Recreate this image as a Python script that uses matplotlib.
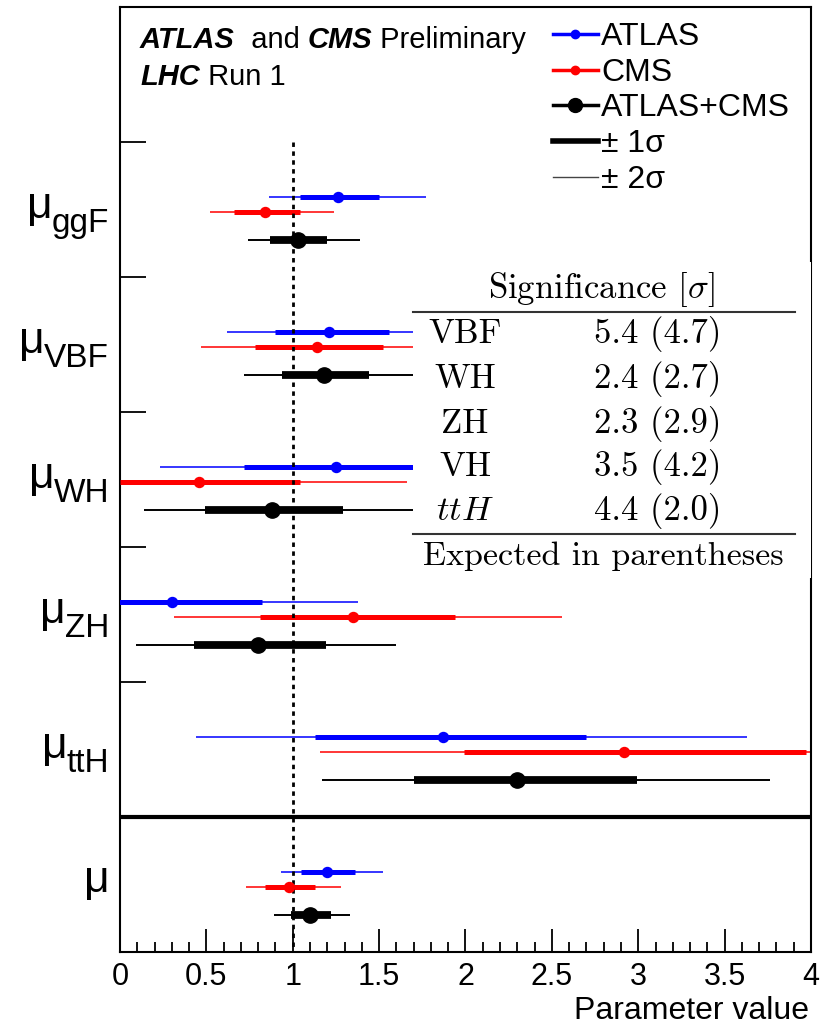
import numpy as np
import matplotlib.pyplot as plt
from matplotlib.lines import Line2D
from matplotlib.patches import Rectangle
from matplotlib.ticker import MultipleLocator

plt.rcParams['font.family'] = ['Liberation Sans', 'DejaVu Sans']
plt.rcParams['mathtext.fontset'] = 'cm'

# production modes, top to bottom ('' = global signal strength)
processes = ['ggF', 'VBF', 'WH', 'ZH', 'ttH', '']

# ATLAS
atlas_mu = [1.26, 1.21, 1.25, 0.30, 1.87, 1.20]
atlas_lo1 = [1.04, 0.90, 0.72, -0.15, 1.13, 1.05]
atlas_hi1 = [1.50, 1.56, 1.82, 0.82, 2.70, 1.36]
atlas_lo2 = [0.86, 0.62, 0.23, -0.50, 0.44, 0.93]
atlas_hi2 = [1.77, 1.95, 2.45, 1.38, 3.63, 1.52]

# CMS
cms_mu = [0.84, 1.14, 0.46, 1.35, 2.92, 0.98]
cms_lo1 = [0.66, 0.78, 0.00, 0.81, 1.99, 0.84]
cms_hi1 = [1.04, 1.52, 1.04, 1.94, 3.97, 1.13]
cms_lo2 = [0.52, 0.47, -0.30, 0.31, 1.16, 0.73]
cms_hi2 = [1.24, 1.95, 1.66, 2.56, 5.00, 1.28]

# ATLAS+CMS
comb_mu = [1.03, 1.18, 0.88, 0.80, 2.30, 1.10]
comb_lo1 = [0.87, 0.94, 0.49, 0.43, 1.70, 0.99]
comb_hi1 = [1.20, 1.44, 1.29, 1.19, 2.99, 1.22]
comb_lo2 = [0.74, 0.72, 0.14, 0.09, 1.17, 0.89]
comb_hi2 = [1.39, 1.72, 1.72, 1.60, 3.76, 1.33]

# significance table
sig_names = ['VBF', 'WH', 'ZH', 'VH', '$ttH$']
sig_obs = [5.4, 2.4, 2.3, 3.5, 4.4]
sig_exp = [4.7, 2.7, 2.9, 4.2, 2.0]

xtick_labels = ['0', '0.5', '1', '1.5', '2', '2.5', '3', '3.5', '4']

fig = plt.figure(figsize=(8.25, 10.26), dpi=100)
ax = fig.add_axes([120 / 825, 1 - 952 / 1026, (811 - 120) / 825, (952 - 7) / 1026])
ax.set_xlim(0, 4)
ax.set_ylim(7, 0)

# (values, colour, 1sigma width, 2sigma width, marker size, offset in slot)
series = [
    (atlas_mu, atlas_lo1, atlas_hi1, atlas_lo2, atlas_hi2, 'blue', 3.6, 1.1, 7.2, 0.405),
    (cms_mu, cms_lo1, cms_hi1, cms_lo2, cms_hi2, 'red', 3.6, 1.1, 7.2, 0.515),
    (comb_mu, comb_lo1, comb_hi1, comb_lo2, comb_hi2, 'black', 5.6, 1.4, 11, 0.725),
]
for mu, lo1, hi1, lo2, hi2, col, lw1, lw2, ms, off in series:
    for i in range(len(processes)):
        y = i + 1 + off
        ax.plot([lo2[i], hi2[i]], [y, y], color=col, lw=lw2, solid_capstyle='butt', zorder=2)
        ax.plot([lo1[i], hi1[i]], [y, y], color=col, lw=lw1, solid_capstyle='butt', zorder=3)
        ax.plot([mu[i]], [y], 'o', color=col, ms=ms, zorder=4)

# SM expectation
ax.plot([1, 1], [1, 7], color='black', lw=2, ls=(0, (1.6, 1.6)), zorder=3.5)
ax.axhline(6, color='black', lw=3, zorder=3)

# y labels
for i, p in enumerate(processes):
    if p:
        sub = ax.annotate(p, xy=(109, i + 1 + 0.667), xycoords=('figure pixels', 'data'),
                          ha='right', va='baseline', fontsize=24, annotation_clip=False)
        ax.annotate('μ', xy=(0, 0), xycoords=sub, xytext=(1, 21), textcoords='offset pixels',
                    ha='right', va='baseline', fontsize=32, annotation_clip=False)
    else:
        ax.annotate('μ', xy=(110, i + 1 + 0.556), xycoords=('figure pixels', 'data'),
                    ha='right', va='baseline', fontsize=32, annotation_clip=False)

# axes styling
for s in ax.spines.values():
    s.set_linewidth(1.5)
ax.set_xticks(np.arange(0, 4.01, 0.5))
ax.set_xticklabels(xtick_labels)
ax.xaxis.set_minor_locator(MultipleLocator(0.1))
ax.tick_params(axis='x', which='major', direction='in', length=16.5, width=1.3,
               labelsize=22, pad=7, top=False)
ax.tick_params(axis='x', which='minor', direction='in', length=7.2, width=1.3, top=False)
ax.set_yticks([1, 2, 3, 4, 5])
ax.set_yticklabels([])
ax.tick_params(axis='y', direction='in', length=19, width=1.3, right=False)
ax.set_xlabel('Parameter value', fontsize=23, loc='right')
ax.xaxis.set_label_coords(0.997, -0.047)

# header text
t = fig.text(140 / 825, 1 - 54 / 1026, 'ATLAS', fontsize=21, weight='bold', style='italic', va='bottom')
for txt, kw in [('  and ', {}), ('CMS', dict(weight='bold', style='italic')), (' Preliminary', {})]:
    t = ax.annotate(txt, xy=(1, 0), xycoords=t, va='bottom', ha='left', fontsize=21, **kw)
t = fig.text(140 / 825, 1 - 91 / 1026, 'LHC', fontsize=21, weight='bold', style='italic', va='bottom')
ax.annotate(' Run 1', xy=(1, 0), xycoords=t, va='bottom', ha='left', fontsize=21)

# legend
handles = [
    Line2D([], [], color='blue', lw=2.5, marker='o', ms=6),
    Line2D([], [], color='red', lw=2.5, marker='o', ms=6),
    Line2D([], [], color='black', lw=2.5, marker='o', ms=10),
    Line2D([], [], color='black', lw=4),
    Line2D([], [], color='#444444', lw=1),
]
labels = ['ATLAS', 'CMS', 'ATLAS+CMS', '± 1σ', '± 2σ']
ax.legend(handles, labels, loc='upper left', bbox_to_anchor=(553 / 825, 1 - 22 / 1026),
          bbox_transform=fig.transFigure, frameon=False, fontsize=23, handlelength=1.4,
          handletextpad=0.1, labelspacing=0.18, borderpad=0, borderaxespad=0)

# significance table
ax.add_patch(Rectangle((1.696, 1.89), 2.5, 2.34, facecolor='white', edgecolor='none', zorder=5))
ax.text(2.784, 2.156, r'Significance [$\sigma$]', family='cmr10', fontsize=25,
        ha='center', va='baseline', zorder=6)
ax.plot([1.696, 3.907], [2.259, 2.259], color='#333333', lw=1.5, zorder=6)
ax.plot([1.696, 3.907], [3.904, 3.904], color='#333333', lw=1.5, zorder=6)
row_y = [2.489, 2.822, 3.156, 3.474, 3.800]
for name, o, e, y in zip(sig_names, sig_obs, sig_exp, row_y):
    ax.text(1.997, y, name, family='cmr10', fontsize=25, ha='center', va='baseline', zorder=6)
    ax.text(2.744, y, f'{o:.1f} ({e:.1f})', family='cmr10', fontsize=25, ha='left',
            va='baseline', zorder=6)
ax.text(2.80, 4.133, 'Expected in parentheses', family='cmr10', fontsize=24.5,
        ha='center', va='baseline', zorder=6)

fig.savefig('out.png', dpi=100)
